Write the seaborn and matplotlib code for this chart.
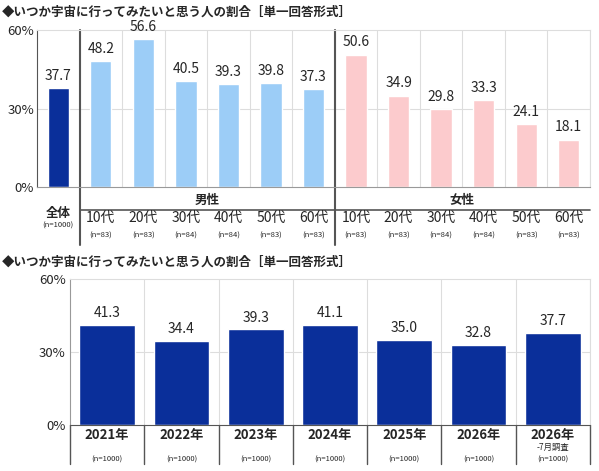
import matplotlib
matplotlib.use("Agg")
import matplotlib.pyplot as plt
import seaborn as sns
import pandas as pd

sns.set_style("white")
plt.rcParams['font.family'] = ['Noto Sans CJK JP', 'DejaVu Sans']

title = "◆いつか宇宙に行ってみたいと思う人の割合［単一回答形式］"
top_labels = ["全体", "10代", "20代", "30代", "40代", "50代", "60代", "10代", "20代", "30代", "40代", "50代", "60代"]
top_groups = ["全体"] + ["男性"] * 6 + ["女性"] * 6
top_n = ["(n=1000)", "(n=83)", "(n=83)", "(n=84)", "(n=84)", "(n=83)", "(n=83)",
         "(n=83)", "(n=83)", "(n=84)", "(n=84)", "(n=83)", "(n=83)"]
top_values = [37.7, 48.2, 56.6, 40.5, 39.3, 39.8, 37.3, 50.6, 34.9, 29.8, 33.3, 24.1, 18.1]

bot_labels = ["2021年", "2022年", "2023年", "2024年", "2025年", "2026年", "2026年\n-7月調査"]
bot_n = ["(n=1000)"] * 7
bot_values = [41.3, 34.4, 39.3, 41.1, 35.0, 32.8, 37.7]

colors = {"全体": "#0a2f9a", "男性": "#9ccdf7", "女性": "#fccbcd"}
navy = "#0a2f9a"
gcol = "#dddddd"

fig = plt.figure(figsize=(5.99, 4.71), dpi=100)
W, H = 599, 471
def rect(l, t, r, b):
    return [l / W, 1 - b / H, (r - l) / W, (b - t) / H]

ax1 = fig.add_axes(rect(37, 30, 590, 187))
ax2 = fig.add_axes(rect(70, 279, 590, 425))

# top chart
df1 = pd.DataFrame({"pos": [str(i) for i in range(13)], "val": top_values, "grp": top_groups})
sns.barplot(data=df1, x="pos", y="val", hue="grp", palette=colors, dodge=False, saturation=1,
            width=0.5, legend=False, ax=ax1, order=[str(i) for i in range(13)])
ax1.set_xlim(-0.5, 12.5)
ax1.set_ylim(0, 60)
ax1.set_yticks([0, 30, 60])
ax1.set_yticklabels(["0%", "30%", "60%"], fontsize=9.5)
ax1.tick_params(axis="y", pad=2, length=0)
ax1.set_xticks([])
ax1.set_xlabel(""); ax1.set_ylabel("")
for x in range(13):
    ax1.axvline(x + 0.5, color=gcol, lw=0.8, zorder=0)
ax1.axhline(30, color=gcol, lw=0.8, zorder=0)
for s in ["top", "right"]:
    ax1.spines[s].set_color(gcol)
ax1.spines["left"].set_color("#555555")
ax1.spines["bottom"].set_color("#999999")
for x, v in enumerate(top_values):
    ax1.text(x, v + 2, f"{v:.1f}", ha="center", va="bottom", fontsize=10)
trans1 = ax1.get_xaxis_transform()
for xs in [0.5, 6.5]:
    ax1.plot([xs, xs], [1, -0.37], transform=trans1, color="#555555", lw=1.5, clip_on=False)
ax1.plot([0.5, 12.5], [-0.145, -0.145], transform=trans1, color="#555555", lw=1.2, clip_on=False)
ax1.text(3.5, -0.085, "男性", transform=trans1, ha="center", va="center", fontsize=9, fontweight="bold")
ax1.text(9.5, -0.085, "女性", transform=trans1, ha="center", va="center", fontsize=9, fontweight="bold")
ax1.text(0, -0.17, "全体", transform=trans1, ha="center", va="center", fontsize=9, fontweight="bold")
ax1.text(0, -0.245, top_n[0], transform=trans1, ha="center", va="center", fontsize=5.5)
for x in range(1, 13):
    ax1.text(x, -0.2, top_labels[x], transform=trans1, ha="center", va="center", fontsize=10)
    ax1.text(x, -0.31, top_n[x], transform=trans1, ha="center", va="center", fontsize=5.5)
fig.text(2 / W, 1 - 12 / H, title, ha="left", va="center", fontsize=9, fontweight="bold")

# bottom chart
df2 = pd.DataFrame({"yr": [str(i) for i in range(7)], "val": bot_values})
sns.barplot(data=df2, x="yr", y="val", color=navy, width=0.75, ax=ax2, saturation=1,
            order=[str(i) for i in range(7)])
ax2.set_xlim(-0.5, 6.5)
ax2.set_ylim(0, 60)
ax2.set_yticks([0, 30, 60])
ax2.set_yticklabels(["0%", "30%", "60%"], fontsize=9.5)
ax2.tick_params(axis="y", pad=3, length=0)
ax2.set_xticks([])
ax2.set_xlabel(""); ax2.set_ylabel("")
for x in range(7):
    ax2.axvline(x + 0.5, color=gcol, lw=0.8, zorder=0)
ax2.axhline(30, color=gcol, lw=0.8, zorder=0)
for s in ["top", "right"]:
    ax2.spines[s].set_color(gcol)
ax2.spines["left"].set_color("#999999")
ax2.spines["bottom"].set_color("#555555")
for x, v in enumerate(bot_values):
    ax2.text(x, v + 2, f"{v:.1f}", ha="center", va="bottom", fontsize=10)
trans2 = ax2.get_xaxis_transform()
for xs in [-0.5] + [x + 0.5 for x in range(7)]:
    ax2.plot([xs, xs], [0, -0.27], transform=trans2, color="#555555", lw=1.0, clip_on=False)
for x in range(7):
    lab = bot_labels[x]
    if "\n" in lab:
        a, b = lab.split("\n")
        ax2.text(x, -0.07, a, transform=trans2, ha="center", va="center", fontsize=9.5, fontweight="bold")
        ax2.text(x, -0.155, b, transform=trans2, ha="center", va="center", fontsize=6)
    else:
        ax2.text(x, -0.07, lab, transform=trans2, ha="center", va="center", fontsize=9.5, fontweight="bold")
    ax2.text(x, -0.24, bot_n[x], transform=trans2, ha="center", va="center", fontsize=5.5)
fig.text(2 / W, 1 - 262 / H, title, ha="left", va="center", fontsize=9, fontweight="bold")

fig.savefig("out.png", dpi=100)
